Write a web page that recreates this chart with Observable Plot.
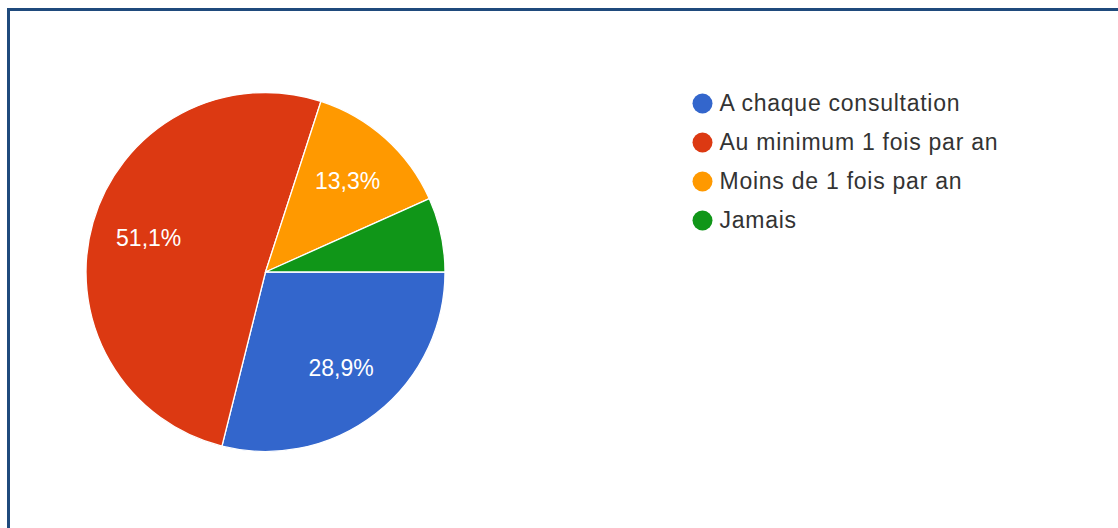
<!DOCTYPE html>
<html>
<head>
<meta charset="utf-8">
<script src="https://cdn.jsdelivr.net/npm/d3@7"></script>
<script src="https://cdn.jsdelivr.net/npm/@observablehq/plot@0.6"></script>
<style>
  html, body { margin: 0; padding: 0; background: #fff; }
  #wrap { position: relative; width: 1118px; height: 528px; overflow: hidden; background: #fff; }
  #frame { position: absolute; left: 7px; top: 8px; width: 1200px; height: 600px;
           border-top: 3px solid #1f4a7c; border-left: 3px solid #1f4a7c; }
  #pie { position: absolute; left: 0; top: 0; }
  #legend { position: absolute; left: 680px; top: 70px; }
</style>
</head>
<body>
<div id="wrap">
  <div id="frame"></div>
  <div id="pie"></div>
  <div id="legend"></div>
</div>
<script>
// ---- data ----
const categories = ["A chaque consultation", "Au minimum 1 fois par an", "Moins de 1 fois par an", "Jamais"];
const percents = [28.9, 51.1, 13.3, 6.7];
const colors = ["#3366cc", "#dc3912", "#ff9900", "#109618"];

const font = "'Liberation Sans', Arial, sans-serif";

const rows = categories.map((c, i) => ({cat: c, value: percents[i]}));
const arcs = d3.pie().sort(null).value(d => d.value)
  .startAngle(Math.PI / 2).endAngle(Math.PI / 2 + 2 * Math.PI)(rows);

const labelR = 0.68;
const labels = arcs.filter(a => a.data.value >= 10).map(a => {
  const m = (a.startAngle + a.endAngle) / 2;
  return {x: labelR * Math.sin(m), y: -labelR * Math.cos(m),
          text: a.data.value.toFixed(1).replace(".", ",") + "%"};
});

function pieRender(index, scales, values) {
  const cx = scales.x(0), cy = scales.y(0), r = scales.x(1) - cx;
  const arc = d3.arc().innerRadius(0).outerRadius(r);
  const g = d3.create("svg:g").attr("transform", `translate(${cx},${cy})`);
  g.selectAll("path").data(index).join("path")
    .attr("d", i => arc(arcs[i]))
    .attr("fill", i => values.fill[i])
    .attr("stroke", "#ffffff")
    .attr("stroke-width", 1.3);
  return g.node();
}

const pie = Plot.plot({
  width: 1118, height: 528,
  margin: 0,
  style: {fontFamily: font, background: "transparent"},
  x: {domain: [-1, 1], range: [86, 445], axis: null},
  y: {domain: [-1, 1], range: [92.5, 451.5], axis: null},
  color: {domain: categories, range: colors},
  marks: [
    Plot.dot(arcs, {x: () => 0, y: () => 0, fill: d => d.data.cat, render: pieRender}),
    Plot.text(labels, {x: "x", y: "y", text: "text", fill: "white", fontSize: 23, fontFamily: font})
  ]
});
document.getElementById("pie").appendChild(pie);

const legend = Plot.plot({
  width: 420, height: 170,
  margin: 0,
  style: {fontFamily: font, background: "transparent", overflow: "visible", letterSpacing: "0.75px"},
  y: {type: "point", domain: categories, range: [33, 150], padding: 0, axis: null},
  color: {domain: categories, range: colors},
  marks: [
    Plot.dot(categories, {y: d => d, fill: d => d, r: 10, frameAnchor: "left", dx: 22}),
    Plot.text(categories, {y: d => d, text: d => d, frameAnchor: "left", dx: 39, textAnchor: "start",
                           fill: "#333", fontSize: 23, fontFamily: font})
  ]
});
document.getElementById("legend").appendChild(legend);
</script>
</body>
</html>
